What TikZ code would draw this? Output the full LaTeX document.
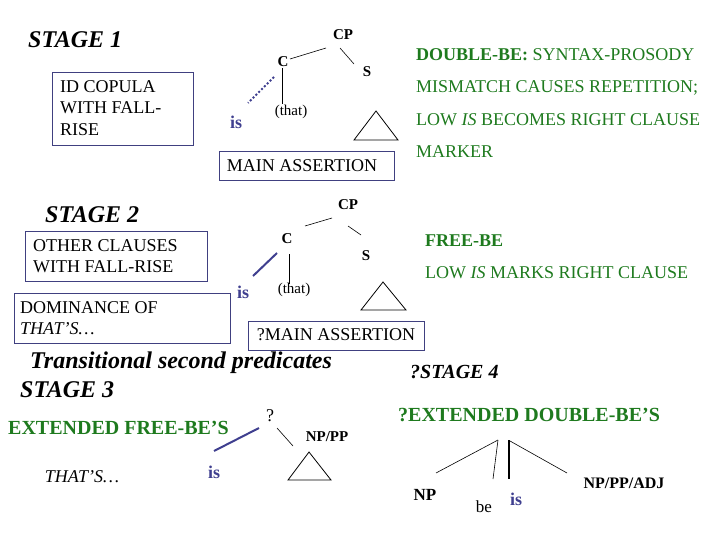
\documentclass[tikz,border=0pt]{standalone}
\usepackage{fontspec}
\setmainfont{Liberation Serif}
\definecolor{grn}{HTML}{1E7A1E}
\definecolor{blu}{HTML}{3F3F8F}
\definecolor{bx}{HTML}{404080}
\begin{document}
\begin{tikzpicture}[x=1pt,y=-1pt,
  txt/.style={inner sep=0pt,font=\fontsize{18}{21.5}\selectfont},
  tht/.style={inner sep=0pt,font=\fontsize{15}{18}\selectfont},
  lab/.style={inner sep=1pt,font=\bfseries\fontsize{15}{18}\selectfont},
  stg/.style={inner sep=0pt,anchor=west,font=\bfseries\itshape\fontsize{24}{26}\selectfont},
  gtx/.style={txt,anchor=west,text=grn},
  isn/.style={inner sep=1pt,text=blu,font=\bfseries\fontsize{18}{20}\selectfont},
  box/.style={draw=bx,line width=0.8pt},
  ln/.style={line width=0.6pt},
  tri/.style={draw,line width=0.8pt}]
\useasboundingbox (0,0) rectangle (720,540);
% STAGE 1
\node[stg] (s1) at (28,40) {STAGE 1};
\draw[box] (52,72) rectangle (193,145);
\node[txt,anchor=west,align=left] (idc) at (60,108) {ID COPULA\\WITH FALL-\\RISE};
\node[lab] (cp1) at (343,35) {CP};
\node[lab] (c1) at (283,62) {C};
\node[lab] (s1s) at (367,72) {S};
\coordinate (c1a) at (290,59); \coordinate (cp1a) at (326,48);
\draw[ln] (c1a) -- (cp1a);
\coordinate (cp1b) at (340,48); \coordinate (s1a) at (354,64);
\draw[ln] (cp1b) -- (s1a);
\node[isn] (is1) at (236,122) {is};
\node[tht] (th1) at (291,112) {(that)};
\coordinate (d1a) at (274,77); \coordinate (d1b) at (248,103);
\draw[blu,line width=2pt,dotted] (d1a) -- (d1b);
\coordinate (v1a) at (282,68); \coordinate (v1b) at (282,104);
\draw[ln] (v1a) -- (v1b);
\draw[tri] (376,111) -- (354,140) -- (398,140) -- cycle;
\draw[box] (219,151) rectangle (394,180);
\node[txt] (ma1) at (302,166) {MAIN ASSERTION};
\node[gtx] (g1) at (416,55) {\textbf{DOUBLE-BE:} SYNTAX-PROSODY};
\node[gtx] (g2) at (416,88) {MISMATCH CAUSES REPETITION;};
\node[gtx] (g3) at (416,120) {LOW \textit{IS} BECOMES RIGHT CLAUSE};
\node[gtx] (g4) at (416,152) {MARKER};
% STAGE 2
\node[stg] (s2) at (45,215) {STAGE 2};
\draw[box] (25,231) rectangle (207,281);
\node[txt,anchor=west,align=left] (oc) at (33,256) {OTHER CLAUSES\\WITH FALL-RISE};
\draw[box] (14,293) rectangle (230,343);
\node[txt,anchor=west,align=left] (dom) at (20,318) {DOMINANCE OF\\\textit{THAT'S\dots}};
\node[lab] (cp2) at (348,205) {CP};
\node[lab] (c2) at (287,239) {C};
\node[lab] (s2s) at (366,256) {S};
\coordinate (c2a) at (305,226); \coordinate (cp2a) at (332,218);
\draw[ln] (c2a) -- (cp2a);
\coordinate (cp2b) at (348,226); \coordinate (s2a) at (361,235);
\draw[ln] (cp2b) -- (s2a);
\node[isn] (is2) at (243,292) {is};
\node[tht] (th2) at (294,290) {(that)};
\coordinate (b2a) at (277,253); \coordinate (b2b) at (253,276);
\draw[blu,line width=2pt] (b2a) -- (b2b);
\coordinate (v2a) at (289,254); \coordinate (v2b) at (289,284);
\draw[ln] (v2a) -- (v2b);
\draw[tri] (383,282) -- (361,310) -- (406,310) -- cycle;
\draw[box] (248,321) rectangle (424,350);
\node[txt] (ma2) at (336,335) {?MAIN ASSERTION};
\node[gtx,font=\bfseries\fontsize{18}{20}\selectfont] (fb) at (425,241) {FREE-BE};
\node[gtx] (lm) at (425,273) {LOW \textit{IS} MARKS RIGHT CLAUSE};
% STAGE 3
\node[stg] (tr) at (30,363) {Transitional second predicates};
\node[stg] (s3) at (20,390) {STAGE 3};
\node[stg,font=\bfseries\itshape\fontsize{20}{22}\selectfont] (s4) at (410,372) {?STAGE 4};
\node[gtx,font=\bfseries\fontsize{20}{22}\selectfont] (efb) at (8,428) {EXTENDED FREE-BE'S};
\node[txt,font=\itshape\fontsize{18}{20}\selectfont] (ths) at (82,477) {THAT'S\dots};
\node[isn] (is3) at (214,472) {is};
\node[txt] (q) at (270,416) {?};
\coordinate (b3a) at (259,428); \coordinate (b3b) at (214,451);
\draw[blu,line width=2pt] (b3a) -- (b3b);
\coordinate (q3a) at (277,428); \coordinate (q3b) at (293,446);
\draw[ln] (q3a) -- (q3b);
\node[lab] (nppp) at (327,437) {NP/PP};
\draw[tri] (309,452) -- (288,480) -- (331,480) -- cycle;
% STAGE 4
\node[gtx,font=\bfseries\fontsize{20}{22}\selectfont] (edb) at (398,415) {?EXTENDED DOUBLE-BE'S};
\coordinate (t1) at (498,440); \coordinate (t2) at (509,440); \coordinate (t3) at (510,441);
\coordinate (e1) at (436,473); \coordinate (e2) at (493,479); \coordinate (e3) at (509,479); \coordinate (e4) at (567,473);
\draw[ln] (t1) -- (e1);
\draw[ln] (t1) -- (e2);
\draw[line width=1.2pt] (t2) -- (e3);
\draw[ln] (t3) -- (e4);
\node[lab,font=\bfseries\fontsize{17}{20}\selectfont] (np) at (425,495) {NP};
\node[txt,font=\fontsize{17}{20}\selectfont] (be) at (484,507) {be};
\node[isn] (is4) at (516,499) {is};
\node[lab,font=\bfseries\fontsize{16}{18}\selectfont] (ppa) at (624,483) {NP/PP/ADJ};
\end{tikzpicture}
\end{document}
